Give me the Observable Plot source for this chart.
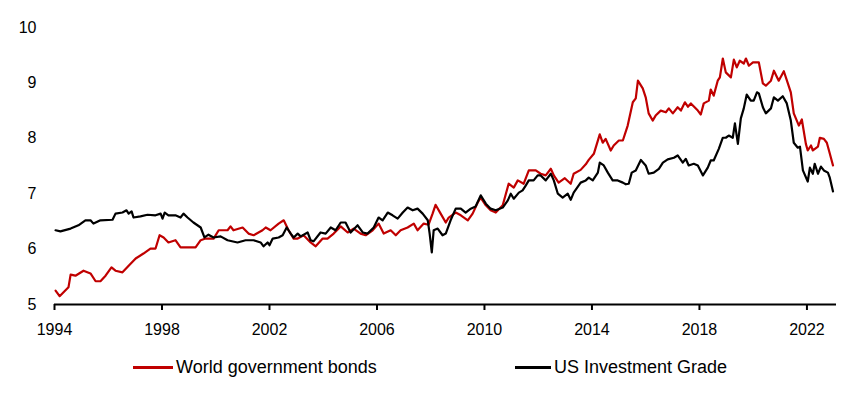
<!DOCTYPE html>
<html><head><meta charset="utf-8">
<script src="https://cdn.jsdelivr.net/npm/d3@7"></script>
<script src="https://cdn.jsdelivr.net/npm/@observablehq/plot@0.6"></script>
<style>
body{margin:0;background:#fff;font-family:"Liberation Sans",Arial,sans-serif;}
#legend{position:relative;width:847px;height:54px;font-size:18px;color:#000;}
.item{position:absolute;top:17px;display:flex;align-items:center;white-space:nowrap;}
.sw{display:inline-block;height:2.5px;margin-right:3px;}
</style></head><body><div id="chart"></div><div id="legend"></div>
<script>
const seriesNames = ["World government bonds", "US Investment Grade"];
const seriesColors = ["#C00000", "#000000"];
const xTicks = [1994, 1998, 2002, 2006, 2010, 2014, 2018, 2022];
const yTicks = [5, 6, 7, 8, 9, 10];

const worldYears = [1994.04,1994.19,1994.52,1994.60,1994.78,1995.08,1995.34,1995.53,1995.71,1995.90,1996.12,1996.27,1996.53,1996.76,1997.02,1997.31,1997.57,1997.76,1997.91,1998.06,1998.24,1998.50,1998.69,1999.25,1999.44,1999.62,1999.92,2000.11,2000.44,2000.55,2000.66,2001.00,2001.22,2001.41,2001.74,2001.86,2002.04,2002.34,2002.53,2002.71,2002.90,2003.05,2003.27,2003.53,2003.72,2003.98,2004.16,2004.39,2004.65,2004.91,2005.13,2005.39,2005.58,2005.84,2006.06,2006.25,2006.51,2006.70,2006.88,2007.14,2007.37,2007.51,2007.74,2007.92,2008.07,2008.18,2008.37,2008.56,2008.67,2008.93,2009.12,2009.38,2009.56,2009.75,2009.86,2010.05,2010.23,2010.42,2010.68,2010.90,2011.09,2011.24,2011.46,2011.65,2011.91,2012.09,2012.28,2012.47,2012.58,2012.76,2012.99,2013.21,2013.32,2013.58,2013.77,2013.88,2014.07,2014.29,2014.40,2014.51,2014.70,2014.81,2015.00,2015.15,2015.33,2015.52,2015.63,2015.71,2015.89,2016.00,2016.11,2016.26,2016.37,2016.56,2016.75,2016.86,2017.01,2017.19,2017.31,2017.46,2017.57,2017.68,2017.94,2018.05,2018.16,2018.35,2018.42,2018.53,2018.68,2018.76,2018.87,2018.98,2019.17,2019.28,2019.39,2019.50,2019.65,2019.73,2019.84,2019.99,2020.21,2020.36,2020.47,2020.66,2020.77,2020.95,2021.14,2021.29,2021.40,2021.51,2021.70,2021.81,2021.96,2022.03,2022.15,2022.22,2022.41,2022.48,2022.63,2022.74,2022.82,2022.97];
const worldValues = [5.25,5.15,5.31,5.54,5.52,5.61,5.56,5.42,5.42,5.52,5.67,5.61,5.58,5.70,5.83,5.92,6.01,6.01,6.25,6.21,6.12,6.16,6.03,6.03,6.16,6.19,6.19,6.34,6.34,6.41,6.34,6.39,6.28,6.25,6.34,6.39,6.34,6.46,6.52,6.34,6.19,6.19,6.25,6.12,6.05,6.19,6.19,6.28,6.41,6.30,6.37,6.28,6.25,6.34,6.46,6.28,6.34,6.25,6.34,6.39,6.46,6.34,6.46,6.44,6.64,6.80,6.64,6.48,6.57,6.66,6.61,6.52,6.64,6.84,6.93,6.79,6.70,6.66,6.79,7.18,7.11,7.24,7.18,7.42,7.42,7.36,7.33,7.45,7.33,7.20,7.28,7.18,7.36,7.43,7.53,7.61,7.72,8.07,7.92,7.99,7.78,7.87,7.96,7.96,8.23,8.65,8.72,9.04,8.90,8.74,8.45,8.32,8.41,8.50,8.47,8.54,8.45,8.56,8.50,8.65,8.57,8.63,8.50,8.43,8.63,8.68,8.88,8.77,9.04,9.10,9.44,9.19,9.10,9.42,9.28,9.40,9.35,9.44,9.31,9.37,9.37,8.99,8.95,9.04,9.22,9.04,9.21,8.99,8.83,8.45,8.23,8.34,7.90,7.78,7.87,7.78,7.85,8.01,7.99,7.92,7.78,7.51];

const usYears = [1994.04,1994.22,1994.60,1994.89,1995.15,1995.34,1995.45,1995.71,1996.16,1996.27,1996.53,1996.68,1996.76,1996.87,1996.94,1997.20,1997.46,1997.76,1997.95,1998.02,1998.10,1998.24,1998.50,1998.69,1998.80,1998.95,1999.17,1999.44,1999.58,1999.73,1999.92,2000.18,2000.44,2000.81,2001.11,2001.41,2001.67,2001.78,2001.93,2002.00,2002.12,2002.34,2002.49,2002.64,2002.79,2002.90,2003.05,2003.16,2003.42,2003.53,2003.64,2003.90,2004.09,2004.28,2004.46,2004.65,2004.83,2005.02,2005.28,2005.47,2005.65,2005.88,2006.06,2006.21,2006.40,2006.58,2006.77,2006.96,2007.14,2007.33,2007.51,2007.70,2007.89,2007.96,2008.04,2008.11,2008.26,2008.44,2008.56,2008.74,2008.93,2009.12,2009.30,2009.49,2009.67,2009.86,2010.05,2010.23,2010.42,2010.68,2010.87,2010.98,2011.09,2011.28,2011.42,2011.54,2011.65,2011.83,2011.98,2012.09,2012.28,2012.47,2012.58,2012.73,2012.91,2013.10,2013.21,2013.32,2013.58,2013.77,2013.88,2014.03,2014.22,2014.29,2014.44,2014.59,2014.77,2014.96,2015.15,2015.26,2015.37,2015.48,2015.63,2015.82,2016.00,2016.11,2016.30,2016.49,2016.64,2016.82,2017.05,2017.19,2017.38,2017.49,2017.60,2017.79,2017.94,2018.13,2018.31,2018.42,2018.53,2018.72,2018.87,2018.98,2019.09,2019.24,2019.32,2019.43,2019.54,2019.65,2019.76,2019.91,2020.02,2020.14,2020.21,2020.36,2020.47,2020.66,2020.77,2020.92,2021.10,2021.25,2021.40,2021.51,2021.66,2021.74,2021.85,2022.03,2022.11,2022.22,2022.29,2022.41,2022.52,2022.63,2022.78,2022.85,2022.97];
const usValues = [6.34,6.32,6.37,6.43,6.52,6.52,6.46,6.52,6.53,6.64,6.66,6.70,6.64,6.68,6.57,6.59,6.62,6.61,6.64,6.55,6.66,6.61,6.61,6.57,6.64,6.57,6.48,6.39,6.21,6.26,6.21,6.23,6.16,6.12,6.16,6.16,6.12,6.05,6.12,6.07,6.19,6.21,6.25,6.39,6.28,6.21,6.28,6.23,6.30,6.16,6.14,6.30,6.28,6.39,6.34,6.48,6.48,6.30,6.43,6.30,6.28,6.39,6.57,6.52,6.66,6.61,6.55,6.66,6.75,6.70,6.73,6.64,6.52,6.28,5.94,6.34,6.37,6.25,6.28,6.52,6.73,6.73,6.66,6.73,6.77,6.97,6.82,6.73,6.70,6.75,6.88,7.00,6.91,7.02,7.06,7.15,7.24,7.24,7.33,7.33,7.24,7.36,7.24,7.00,6.93,7.00,6.89,7.02,7.20,7.24,7.29,7.24,7.38,7.56,7.51,7.38,7.24,7.24,7.20,7.17,7.18,7.38,7.42,7.61,7.51,7.36,7.38,7.45,7.56,7.62,7.65,7.69,7.56,7.63,7.51,7.54,7.51,7.33,7.47,7.60,7.60,7.81,8.01,8.01,8.05,8.01,8.27,7.90,8.36,8.54,8.79,8.68,8.68,8.83,8.81,8.56,8.45,8.54,8.74,8.68,8.76,8.63,8.32,7.92,7.83,7.85,7.42,7.22,7.47,7.36,7.54,7.36,7.49,7.42,7.38,7.29,7.04];

const world = worldYears.map((x, i) => ({x, y: worldValues[i]}));
const us = usYears.map((x, i) => ({x, y: usValues[i]}));

const chart = Plot.plot({
  width: 847, height: 340,
  marginLeft: 54, marginRight: 11, marginTop: 27, marginBottom: 36,
  style: {fontFamily: '"Liberation Sans", Arial, sans-serif', color: "#000", background: "#fff"},
  x: {domain: [1994, 2023.1]},
  y: {domain: [5, 10]},
  marks: [
    Plot.axisY(yTicks, {tickSize: 0, tickPadding: 18, fontSize: 16, label: null, tickFormat: d => String(d)}),
    Plot.axisX(xTicks, {tickSize: 6, tickPadding: 13, fontSize: 16, label: null, tickFormat: d => String(d), strokeWidth: 2}),
    Plot.ruleY([5], {stroke: "#000", strokeWidth: 2}),
    Plot.line(world, {x: "x", y: "y", stroke: seriesColors[0], strokeWidth: 2.2}),
    Plot.line(us, {x: "x", y: "y", stroke: seriesColors[1], strokeWidth: 2.2})
  ]
});
document.getElementById("chart").appendChild(chart);

const legend = document.getElementById("legend");
const lefts = [133, 515];
const swW = [40, 36];
seriesNames.forEach((name, i) => {
  const it = document.createElement("div");
  it.className = "item";
  it.style.left = lefts[i] + "px";
  it.innerHTML = `<span class="sw" style="width:${swW[i]}px;background:${seriesColors[i]}"></span><span>${name}</span>`;
  legend.appendChild(it);
});
</script></body></html>
